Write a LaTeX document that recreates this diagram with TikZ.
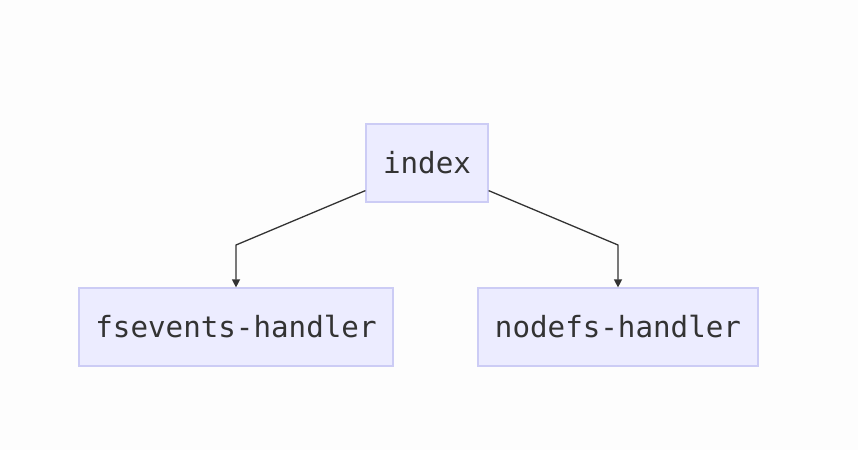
\documentclass[tikz,border=0pt]{standalone}
\usepackage{fontspec}
\setmonofont{DejaVu Sans Mono}
\usetikzlibrary{arrows.meta,calc}
\definecolor{boxfill}{HTML}{ECECFF}
\definecolor{boxline}{HTML}{CCCCF5}
\definecolor{edgecol}{HTML}{333333}
\definecolor{bg}{HTML}{FDFDFD}
\begin{document}
\begin{tikzpicture}[x=1pt,y=-1pt,
  box/.style={draw=boxline, fill=boxfill, line width=1.2pt, inner sep=0pt,
    minimum height=78pt, text=edgecol,
    font=\ttfamily\fontsize{29.2}{35}\selectfont},
  conn/.style={draw=edgecol, line width=1.3pt, -{Triangle[length=8pt,width=8pt]}}]
\fill[bg] (0,0) rectangle (858,450);
\useasboundingbox (0,0) rectangle (858,450);
\node[box, minimum width=122pt] (index) at (427,163) {index};
\node[box, minimum width=314pt] (fs) at (236,327) {fsevents-handler};
\node[box, minimum width=280pt] (nf) at (618,327) {nodefs-handler};
\coordinate (c1) at (236,245);
\coordinate (c2) at (618,245);
\draw[conn] ($(index.south west)+(0,-12)$) -- (c1) -- (fs.north);
\draw[conn] ($(index.south east)+(0,-12)$) -- (c2) -- (nf.north);
\end{tikzpicture}
\end{document}
